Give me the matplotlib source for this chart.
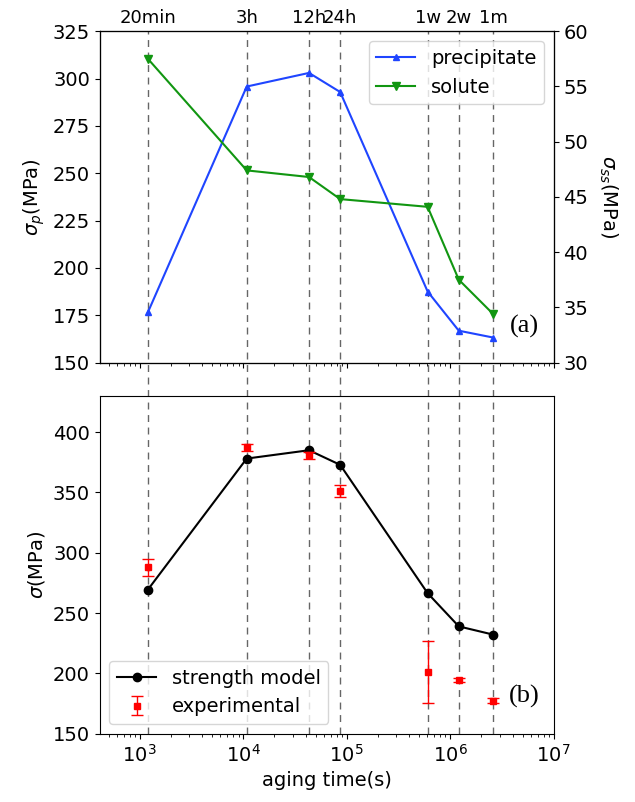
import numpy as np
import matplotlib
matplotlib.use("Agg")
import matplotlib.pyplot as plt

# aging times (s) and their labels
times = [1200, 10800, 43200, 86400, 604800, 1209600, 2592000]
time_labels = ["20min", "3h", "12h", "24h", "1w", "2w", "1m"]

# panel (a)
sigma_p = [176.6, 295.8, 303.0, 292.9, 187.5, 166.8, 163.2]
sigma_ss = [57.5, 47.4, 46.8, 44.8, 44.1, 37.5, 34.4]

# panel (b)
model = [269.5, 378.0, 384.9, 372.8, 266.5, 239.0, 232.2]
exp_mean = [287.9, 387.4, 380.8, 351.0, 201.5, 194.6, 177.4]
exp_err = [7.0, 2.8, 2.8, 5.0, 25.7, 1.5, 2.0]

plt.rcParams["font.family"] = "DejaVu Sans"
plt.rcParams["font.size"] = 14

fig = plt.figure(figsize=(6.35, 8.02), dpi=100)
ax1 = fig.add_axes([0.157, 0.548, 0.715, 0.413])
ax2 = fig.add_axes([0.157, 0.085, 0.715, 0.4215])
ax2.patch.set_visible(False)

xlim = (410, 1e7)

# top panel
ax1.plot(times, sigma_p, color="#1f45ff", marker="^", markersize=5, lw=1.5, label="precipitate")
ax1.set_xscale("log")
ax1.set_xlim(*xlim)
ax1.set_ylim(150, 325)
ax1.set_yticks(range(150, 326, 25))
ax1.set_ylabel(r"$\sigma_p$(MPa)")
ax1.tick_params(axis="x", labelbottom=False)

ax1r = ax1.twinx()
ax1r.plot(times, sigma_ss, color="#119611", marker="v", markersize=6, lw=1.5, label="solute")
ax1r.set_ylim(30, 60)
ax1r.set_yticks(range(30, 61, 5))
ax1r.set_ylabel(r"$\sigma_{ss}$(MPa)", rotation=270, labelpad=22)

h1, l1 = ax1.get_legend_handles_labels()
h2, l2 = ax1r.get_legend_handles_labels()
ax1r.legend(h1 + h2, l1 + l2, loc="upper right", fontsize=14)
ax1.text(0.935, 0.11, "(a)", transform=ax1.transAxes, ha="center", va="center",
         fontsize=19, family="Liberation Serif")

# labels for the aging times on top
axt = ax1.twiny()
axt.set_xscale("log")
axt.set_xlim(*xlim)
axt.set_xticks(times)
axt.set_xticklabels(time_labels, fontsize=13)
axt.minorticks_off()
axt.tick_params(axis="x", length=0, pad=3)

# dashed lines running through both panels
pos1 = ax1.get_position()
pos2 = ax2.get_position()
ymin = (pos2.y0 - pos1.y0) / pos1.height
for t in times:
    ax1.axvline(t, ymin=ymin, ymax=1, color="#666666", ls=(0, (5, 4)), lw=1,
                clip_on=False, zorder=0)

# bottom panel
ax2.plot(times, model, color="black", marker="o", markersize=6, lw=1.5, label="strength model")
ax2.errorbar(times, exp_mean, yerr=exp_err, fmt="s", color="red", markersize=4,
             capsize=4, elinewidth=1, lw=0, label="experimental")
ax2.set_xscale("log")
ax2.set_xlim(*xlim)
ax2.set_ylim(150, 430)
ax2.set_yticks(range(150, 401, 50))
ax2.set_ylabel(r"$\sigma$(MPa)")
ax2.set_xlabel("aging time(s)")
ax2.legend(loc="lower left", fontsize=14)
ax2.text(0.935, 0.11, "(b)", transform=ax2.transAxes, ha="center", va="center",
         fontsize=19, family="Liberation Serif")

fig.savefig("out.png", dpi=100)
